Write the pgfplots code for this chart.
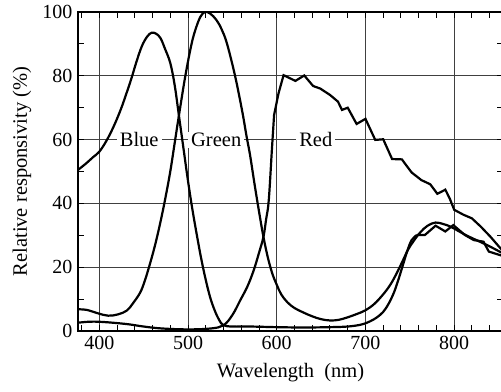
\documentclass[border=0pt]{standalone}
\usepackage{pgfplots}
\pgfplotsset{compat=1.18}
\usepackage{fontspec}
\setmainfont{Liberation Serif}
\begin{document}
\fontsize{20.5}{24}\selectfont
\begin{tikzpicture}[font=\fontsize{20.5}{24}\selectfont]
\begin{axis}[
  name=ax,
  scale only axis, width=425pt, height=319pt,
  xmin=376, xmax=855, ymin=0, ymax=100,
  xtick={400,500,...,800}, ytick={0,20,...,100},
  minor xtick={380,400,...,840}, minor ytick={10,30,...,90},
  tick align=inside, major tick length=6pt, minor tick length=6pt,
  tick style={black, line width=1pt},
  grid=major, major grid style={black!75, line width=1pt},
  axis line style={line width=2.8pt},
  /pgf/number format/assume math mode=true,
  tick label style={font=\fontsize{20}{23}\selectfont},
  label style={font=\fontsize{20.5}{24}\selectfont},
  xticklabel style={inner sep=5pt},
  yticklabel style={inner sep=5.5pt},
  xlabel={Wavelength\ \ (nm)},
  ylabel={Relative responsivity (\%)},
  xlabel style={at={(axis description cs:0.5,0)}, anchor=base, yshift=-47pt},
  ylabel style={at={(axis description cs:-0.1318,0.5)}, anchor=center},
]
\node[fill=white, inner xsep=3pt, inner ysep=1pt, anchor=base, yshift=-7pt] at (axis cs:445,60) {Blue};
\node[fill=white, inner xsep=3pt, inner ysep=1pt, anchor=base, yshift=-7pt] at (axis cs:531.8,60) {Green};
\node[fill=white, inner xsep=3pt, inner ysep=1pt, anchor=base, yshift=-7pt] at (axis cs:644,60) {Red};
% Blue
\addplot[black, line width=2.2pt, smooth, tension=0.6] coordinates {
 (376,50.5) (385,52.5) (393,54.5) (400,56.2) (408,59.6) (416,64) (424,69.3)
 (430,74) (436,79) (442,84.5) (448,89.3) (454,92.3) (459,93.5) (464,93.2)
 (469,91.8) (474,88.5) (480,84) (485,77) (490,67) (495,57) (500,47) (505,38)
 (510,30) (515,22.5) (520,16) (525,10.5) (530,6.5) (535,3.5) (540,1.8)
 (550,1.4) (570,1.4) (600,1.2) (630,1.1) (660,1.2) (680,1.4) (695,2.0)
 (705,3.0) (713,4.3) (720,6.0) (726,8.5) (732,12) (737,16) (742,20.5)
 (747,25) (752,28.5) (758,30.1)};
\addplot[black, line width=2.2pt] coordinates {
 (758,30.1) (767,30.1) (779,33) (790,31.2) (799,33.2) (812,30.1) (822,28.5)
 (833,28) (839,24.9) (855,23.5)};
% Green
\addplot[black, line width=2.2pt, smooth, tension=0.6] coordinates {
 (376,6.8) (386,6.6) (399,5.5) (410,4.8) (421,5.2) (431,6.4) (438,8.7)
 (446,12) (451,15.5) (456,20) (462,26) (468,33) (474,41) (480,50) (485,59)
 (490,68) (497,80) (504,90) (509,95) (514,98.5) (519,100) (525,99.5)
 (532,97.5) (538,94.5) (544,90) (553,80) (561,69) (566,61) (570,55)
 (575,46) (580,37.5) (585,29.5) (590,23) (595,18) (600,14.5) (605,11.5)
 (612,9) (620,7.2) (630,5.8) (640,4.6) (650,3.7) (660,3.3) (670,3.5)
 (680,4.3) (690,5.3) (700,6.5) (710,8.5) (720,11.5) (728,14.5) (735,18)
 (742,22) (748,25.5) (755,28.5) (762,31) (770,33) (779,34) (788,33.5)
 (796,32.7) (805,31.3) (815,29.8) (825,28.5) (835,27.2) (845,25.8) (855,24.3)};
% Red
\addplot[black, line width=2.2pt, smooth, tension=0.6] coordinates {
 (376,2.6) (388,2.9) (399,2.9) (415,2.6) (433,2.1) (450,1.4) (470,0.8)
 (500,0.5) (526,0.8) (540,1.8) (550,5) (559,9.7) (567,14) (574,19)
 (580,24.5) (585,29.5) (588,35) (591,41) (594.5,56.7) (597,67.7)};
\addplot[black, line width=2.2pt] coordinates {
 (597,67.7) (602,74.5) (607.7,80.2) (621,78.4) (631,80.1) (641,76.8)
 (649,76) (660,74) (669,71.9) (673.5,69.3) (680,70) (690,64.9) (700,66.5)
 (711,59.9) (720,60.1) (730,53.9) (741,53.8) (752,49.7) (763,47.3)
 (773,46) (781,43) (790,44.3) (795,41.5) (800,38) (810,36.5) (820,35.3)
 (830,32.7) (841,29.5) (855,25)};
\end{axis}
\pgfresetboundingbox
\path[use as bounding box] ([xshift=-78pt,yshift=-61pt]ax.south west) rectangle ([xshift=423pt,yshift=12pt]ax.north west);
\end{tikzpicture}
\end{document}
